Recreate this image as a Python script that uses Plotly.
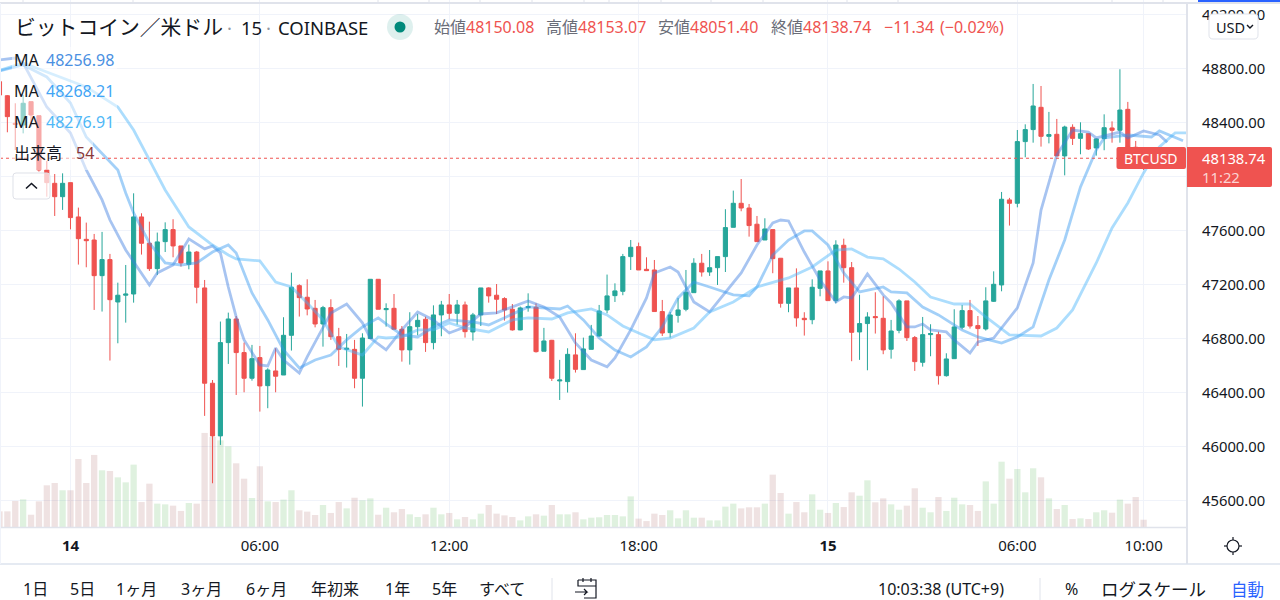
import pandas as pd
import plotly.graph_objects as go

FONT = "Noto Sans, Noto Sans CJK JP, sans-serif"
UP = "#26a69a"
DOWN = "#ef5350"
TEXT = "#131722"
LABEL = "#6a6d78"
DOT = "#9598a1"
BORDER = "#e0e3eb"
GRID = "#f0f3fa"

# 15 minute bars, first one is 2021-08-13 21:45
FIRST_BAR = "2021-08-13 21:45"
DAY_START = pd.Timestamp("2021-08-14 00:00")

opens = [
    48706, 48602, 48398, 48385, 48558, 48454, 48052, 47953, 47854, 47958,
    47704, 47538, 47533, 47269, 47388, 47074, 47124, 47133, 47704, 47509,
    47321, 47521, 47610, 47489, 47353, 47444, 47178, 46472, 46082, 46773,
    46948, 46699, 46509, 46662, 46454, 46563, 46533, 46827, 47195, 47109,
    47027, 46911, 47032, 46817, 46723, 46723, 46509, 46803, 47242, 47017,
    47027, 46872, 46719, 46891, 46946, 46773, 46978, 47052, 46990, 47052,
    46852, 46978, 47178, 47124, 47099, 47020, 46867, 47032, 47035, 46709,
    46790, 46489, 46484, 46682, 46573, 46723, 46822, 47015, 47121, 47153,
    47410, 47484, 47316, 47311, 47003, 46847, 46975, 47020, 47143, 47361,
    47296, 47328, 47410, 47627, 47805, 47770, 47650, 47533, 47610, 47398,
    47064, 47178, 46953, 46943, 47175, 47304, 47084, 47494, 47328, 46852,
    46914, 46966, 46953, 46724, 46864, 47082, 46810, 46627, 46832, 46832,
    46528, 46654, 46887, 47010, 46899, 46874, 47079, 47200, 47830, 47805,
    48262, 48351, 48516, 48301, 48316, 48156, 48368, 48286, 48321, 48215,
    48284, 48363, 48346, 48501, 48220, 48150.08,
]
highs = [
    48756, 48607, 48546, 48607, 48558, 48454, 48119, 48022, 48027, 47958,
    47773, 47662, 47578, 47593, 47430, 47217, 47348, 47879, 47731, 47669,
    47588, 47664, 47687, 47489, 47499, 47452, 47237, 46496, 46929, 46995,
    46970, 46773, 46756, 46748, 46583, 46731, 46961, 47291, 47205, 47242,
    47089, 47045, 47094, 46882, 46837, 46793, 46842, 47242, 47242, 47064,
    47133, 46896, 46998, 46985, 46965, 47049, 47082, 47133, 47089, 47077,
    46993, 47178, 47183, 47207, 47109, 47059, 47040, 47138, 47064, 46882,
    46793, 46645, 46731, 46842, 46810, 46904, 47052, 47277, 47212, 47430,
    47533, 47514, 47405, 47385, 47089, 47000, 47104, 47311, 47398, 47430,
    47459, 47410, 47761, 47899, 47985, 47800, 47711, 47694, 47610, 47398,
    47178, 47323, 46998, 47242, 47304, 47375, 47531, 47543, 47370, 47128,
    46998, 47146, 47116, 46941, 47094, 47082, 46822, 46963, 46909, 46854,
    46694, 47020, 47052, 47089, 46970, 47183, 47301, 47889, 47845, 48348,
    48390, 48689, 48674, 48482, 48430, 48380, 48390, 48405, 48321, 48287,
    48464, 48412, 48798, 48556, 48267, 48153.07,
]
lows = [
    48546, 48331, 48200, 48323, 48373, 48040, 47854, 47711, 47756, 47612,
    47351, 47331, 47015, 47003, 46640, 46768, 46921, 47069, 47425, 47304,
    47274, 47444, 47405, 47336, 47316, 47064, 46230, 45731, 46015, 46615,
    46385, 46405, 46491, 46262, 46287, 46405, 46533, 46714, 46966, 46975,
    46886, 46743, 46793, 46600, 46588, 46435, 46299, 46803, 47020, 46891,
    46872, 46632, 46610, 46827, 46704, 46723, 46820, 46946, 46906, 46810,
    46788, 46896, 47069, 46985, 46936, 46862, 46864, 47002, 46699, 46709,
    46489, 46348, 46403, 46551, 46573, 46723, 46817, 46990, 47074, 47124,
    47311, 47311, 47306, 47003, 46822, 46810, 46921, 47005, 47143, 47262,
    47267, 47200, 47296, 47627, 47746, 47558, 47521, 47533, 47287, 47032,
    46998, 46891, 46825, 46909, 47116, 47084, 47064, 47217, 46635, 46645,
    46568, 46840, 46687, 46654, 46842, 46785, 46563, 46595, 46672, 46462,
    46521, 46654, 46872, 46877, 46748, 46862, 47074, 47153, 47640, 47775,
    48146, 48254, 48225, 48249, 48156, 48012, 48237, 48168, 48200, 48158,
    48198, 48254, 48254, 48150, 48080, 48051.40,
]
closes = [
    48607, 48447, 48390, 48546, 48459, 48052, 47958, 47854, 47953, 47699,
    47543, 47528, 47269, 47388, 47091, 47124, 47133, 47704, 47509, 47321,
    47519, 47610, 47489, 47363, 47444, 47183, 46472, 46082, 46773, 46948,
    46699, 46509, 46654, 46452, 46570, 46524, 46827, 47183, 47106, 47022,
    46911, 47032, 46817, 46723, 46731, 46509, 46807, 47242, 47020, 47025,
    46872, 46719, 46891, 46938, 46773, 46978, 47052, 46990, 47052, 46854,
    46978, 47178, 47119, 47094, 47015, 46867, 47030, 47040, 46706, 46785,
    46509, 46496, 46686, 46575, 46726, 46822, 47007, 47119, 47156, 47410,
    47479, 47311, 47306, 47003, 46844, 46978, 47015, 47146, 47361, 47296,
    47328, 47410, 47625, 47805, 47770, 47640, 47521, 47615, 47395, 47064,
    47178, 46956, 46943, 47183, 47304, 47084, 47496, 47328, 46849, 46914,
    46963, 46958, 46719, 46859, 47082, 46810, 46632, 46832, 46840, 46528,
    46652, 46889, 47010, 46896, 46877, 47082, 47205, 47835, 47805, 48262,
    48351, 48526, 48301, 48314, 48156, 48370, 48286, 48321, 48207, 48282,
    48365, 48346, 48496, 48220, 48150, 48138.74,
]
volumes = [
    116, 116, 193, 205, 91, 190, 309, 326, 272, 272,
    504, 326, 534, 420, 415, 368, 331, 462, 185, 321,
    173, 168, 158, 119, 178, 173, 697, 667, 642, 598,
    472, 358, 215, 450, 190, 185, 203, 272, 124, 114,
    89, 163, 104, 185, 138, 217, 198, 212, 91, 143,
    109, 133, 94, 74, 94, 143, 94, 104, 57, 74,
    57, 99, 163, 99, 86, 74, 49, 79, 94, 84,
    163, 94, 94, 109, 57, 69, 72, 89, 89, 79,
    227, 62, 44, 99, 89, 124, 64, 124, 69, 69,
    49, 49, 151, 173, 138, 146, 146, 173, 388, 252,
    99, 185, 109, 242, 128, 104, 178, 148, 257, 232,
    346, 183, 212, 168, 128, 158, 287, 143, 109, 222,
    119, 217, 168, 163, 119, 338, 173, 484, 358, 430,
    257, 435, 368, 212, 133, 163, 59, 64, 59, 109,
    124, 106, 203, 173, 222, 54,
]

# moving averages: bar number counted from the 14th 00:00, and value
ma_fast_bars = [
    -9, -7, -6, -3, 0, 2, 4, 5, 7, 10, 11, 13, 15, 17, 18, 19, 20, 21, 22, 24,
    25, 26, 27, 29, 30, 32, 33, 35, 37, 38, 40, 42, 44, 46, 48, 50, 52, 54, 56, 58,
    60, 62, 64, 66, 68, 69, 71, 73, 74, 76, 77, 79, 81, 83, 85, 87, 89, 90, 91, 93,
    95, 97, 98, 99, 101, 103, 104, 106, 107, 108, 109, 111, 112, 114, 115, 117, 120, 122, 123, 125,
    127, 129, 130, 133, 134, 136, 138, 139,
]
ma_fast = [
    48867, 48881, 48844, 48518, 48326, 48052, 47830, 47681, 47459, 47200, 47289, 47348, 47541, 47467, 47489, 47437, 47185, 46963, 46793, 46607,
    46600, 46733, 46644, 46548, 46667, 46889, 46993, 47059, 46919, 46807, 46719, 46867, 47000, 46941, 46844, 46889, 46985, 46993, 47037, 47082,
    47037, 46963, 46770, 46644, 46593, 46659, 46867, 47104, 47289, 47333, 47296, 47074, 47000, 47148, 47289, 47496, 47659, 47681, 47674, 47444,
    47237, 47074, 47111, 47104, 47281, 47126, 47067, 46889, 46889, 46911, 46867, 46852, 46793, 46696, 46778, 46807, 47030, 47363, 47755, 48163,
    48348, 48333, 48289, 48333, 48289, 48341, 48311, 48256.98,
]
ma_mid_bars = [
    -9, -6, -3, 0, 2, 6, 7, 8, 10, 12, 14, 16, 18, 20, 21, 23, 25, 27, 29, 31,
    33, 35, 37, 39, 40, 42, 44, 46, 48, 51, 53, 55, 58, 62, 63, 65, 67, 69, 71, 73,
    75, 77, 79, 81, 84, 86, 87, 89, 91, 93, 94, 96, 98, 100, 103, 104, 106, 108, 110, 113,
    115, 118, 120, 122, 124, 126, 128, 130, 131, 134, 137, 138, 141,
]
ma_mid = [
    48785, 48830, 48741, 48548, 48296, 48052, 47881, 47733, 47511, 47363, 47348, 47363, 47444, 47496, 47437, 47141, 46941, 46719, 46585, 46644,
    46681, 46793, 46889, 46956, 46911, 46830, 46815, 46889, 46941, 46926, 46904, 46956, 47037, 47022, 47044, 46941, 46807, 46718, 46667, 46741,
    46889, 47104, 47222, 47185, 47126, 47119, 47185, 47422, 47533, 47600, 47600, 47496, 47289, 47148, 47185, 47148, 47141, 47037, 46978, 46867,
    46815, 46770, 46815, 46889, 47237, 47533, 47926, 48200, 48289, 48311, 48296, 48341, 48268.21,
]
ma_slow_bars = [
    -9, -6, -3, 2, 6, 8, 10, 12, 15, 18, 20, 21, 24, 26, 28, 30, 32, 34, 37, 39,
    40, 42, 44, 46, 48, 50, 53, 56, 58, 61, 63, 66, 68, 70, 72, 74, 76, 79, 81, 84,
    87, 91, 94, 97, 99, 101, 103, 105, 107, 109, 112, 114, 116, 119, 123, 125, 127, 130, 132, 134,
    136, 138, 140, 142,
]
ma_slow = [
    48790, 48844, 48778, 48667, 48518, 48348, 48126, 47904, 47630, 47496, 47422, 47393, 47378, 47222, 47185, 47067, 46941, 46741, 46681, 46815,
    46807, 46815, 46867, 46867, 46919, 46882, 46852, 46941, 46956, 46948, 46993, 47022, 46978, 46896, 46844, 46793, 46807, 46881, 47000, 47074,
    47185, 47252, 47333, 47459, 47467, 47407, 47393, 47318, 47222, 47111, 47059, 47059, 46963, 46830, 46822, 46881, 47015, 47363, 47622, 47807,
    48030, 48222, 48326, 48326,
]

price_ticks = [45600, 46000, 46400, 46800, 47200, 47600, 48000, 48400, 48800, 49200]
# the 48000 label sits behind the last price tag
price_labels = ["45600.00", "46000.00", "46400.00", "46800.00", "47200.00", "47600.00", "", "48400.00", "48800.00", "49200.00"]
time_ticks = ["2021-08-14 00:00", "2021-08-14 06:00", "2021-08-14 12:00", "2021-08-14 18:00",
              "2021-08-15 00:00", "2021-08-15 06:00", "2021-08-15 10:00"]
time_labels = ["<b>14</b>", "06:00", "12:00", "18:00", "<b>15</b>", "06:00", "10:00"]

range_items = ["1日", "5日", "1ヶ月", "3ヶ月", "6ヶ月", "年初来", "1年", "5年", "すべて"]
range_item_x = [22, 69, 115, 180, 245, 310, 384, 431, 478]
toolbar_ticks = [23, 133, 378, 429, 480, 532, 584, 609, 661, 711, 763, 847, 898, 1112, 1163]
quote_names = ["始値", "高値", "安値", "終値"]
quote_values = ["48150.08", "48153.07", "48051.40", "48138.74"]
quote_x = [433, 545, 657, 770]
ma_values = ["48256.98", "48268.21", "48276.91"]
ma_value_colors = ["#4a90e2", "#42a5f5", "#4fb8f7"]
ma_row_y = [60, 91, 122]


# paper coordinates run over the plot area, 1187 x 527 px
def px(x):
    return x / 1187


def py(y):
    return (527 - y) / 527


def bar_times(bars):
    return [DAY_START + pd.Timedelta(minutes=15 * b) for b in bars]


def pt(x, y):
    return f"{px(x):.5f},{py(y):.5f}"


def round_box(x0, y0, x1, y1, r):
    return (f"M{pt(x0 + r, y0)} L{pt(x1 - r, y0)} Q{pt(x1, y0)} {pt(x1, y0 + r)} "
            f"L{pt(x1, y1 - r)} Q{pt(x1, y1)} {pt(x1 - r, y1)} L{pt(x0 + r, y1)} "
            f"Q{pt(x0, y1)} {pt(x0, y1 - r)} L{pt(x0, y0 + r)} Q{pt(x0, y0)} {pt(x0 + r, y0)} Z")


def add_path(fig, path, color="rgba(0,0,0,0)", line=None, width=1):
    fig.add_shape(type="path", path=path, xref="paper", yref="paper", fillcolor=color,
                  line=dict(color=line or "rgba(0,0,0,0)", width=width if line else 0))


def add_seg(fig, x0, y0, x1, y1, color=BORDER, width=1):
    fig.add_shape(type="line", xref="paper", yref="paper", x0=px(x0), x1=px(x1), y0=py(y0), y1=py(y1),
                  line=dict(color=color, width=width))


def add_text(fig, x, y, text, size=16, color=TEXT, anchor="left"):
    fig.add_annotation(xref="paper", yref="paper", x=px(x), y=py(y), text=text, showarrow=False,
                       xanchor=anchor, yanchor="middle", align=anchor, borderpad=0,
                       font=dict(family=FONT, size=size, color=color))


times = pd.date_range(start=FIRST_BAR, periods=len(closes), freq="15min")
volume_colors = ["rgba(76,175,80,0.18)" if c >= o else "rgba(150,60,60,0.15)" for o, c in zip(opens, closes)]

fig = go.Figure()
fig.add_trace(go.Bar(x=times, y=volumes, marker=dict(color=volume_colors, line_width=0), yaxis="y"))
fig.add_trace(go.Candlestick(x=times, open=opens, high=highs, low=lows, close=closes, yaxis="y2",
                             whiskerwidth=0,
                             increasing=dict(line=dict(color=UP, width=1), fillcolor=UP),
                             decreasing=dict(line=dict(color=DOWN, width=1), fillcolor=DOWN)))
fig.add_trace(go.Scatter(x=bar_times(ma_fast_bars), y=ma_fast, mode="lines", yaxis="y2",
                         line=dict(color="rgba(60,125,225,0.45)", width=2.8)))
fig.add_trace(go.Scatter(x=bar_times(ma_mid_bars), y=ma_mid, mode="lines", yaxis="y2",
                         line=dict(color="rgba(50,150,240,0.45)", width=2.8)))
fig.add_trace(go.Scatter(x=bar_times(ma_slow_bars), y=ma_slow, mode="lines", yaxis="y2",
                         line=dict(color="rgba(70,180,250,0.45)", width=2.8)))

fig.update_layout(
    width=1280, height=600, autosize=False,
    margin=dict(l=0, r=93, t=0, b=73),
    paper_bgcolor="white", plot_bgcolor="white",
    showlegend=False, bargap=0.2, boxgap=0.25,
    font=dict(family=FONT, color=TEXT),
    xaxis=dict(type="date", range=["2021-08-13 21:46", "2021-08-15 11:22:30"],
               rangeslider_visible=False, tickmode="array", tickvals=time_ticks, ticktext=time_labels,
               tickangle=0, showgrid=True, gridcolor=GRID, gridwidth=1, zeroline=False, ticks="",
               ticklabelstandoff=8, tickfont=dict(size=15, color=TEXT, family=FONT)),
    yaxis=dict(range=[0, 3905], visible=False, fixedrange=True),
    yaxis2=dict(overlaying="y", side="right", range=[45407, 49311], tickmode="array", tickvals=price_ticks,
                ticktext=price_labels, showgrid=True, gridcolor=GRID, gridwidth=1, zeroline=False, ticks="",
                ticklabelstandoff=14, tickfont=dict(size=14.8, color=TEXT, family=FONT)),
)

# last price line
fig.add_shape(type="line", xref="paper", yref="y2", x0=0, x1=1, y0=closes[-1], y1=closes[-1],
              line=dict(color=DOWN, width=1, dash="dot"))

# pane borders
add_seg(fig, 0, 3, 1280, 3, width=2)
for x in toolbar_ticks:
    add_seg(fig, x, 0, x, 3, width=1)
add_seg(fig, 1198, 1, 1280, 1, color="#2962ff", width=2)
add_seg(fig, 1187, 3, 1187, 564, width=2)
add_seg(fig, 0, 527.5, 1187, 527.5, width=1.5)
add_seg(fig, 0, 564, 1280, 564, color="#dde3ee", width=1.5)
add_seg(fig, 0.5, 3, 0.5, 564, color=GRID, width=1)
add_seg(fig, 552, 578, 552, 600, width=1)
add_seg(fig, 1040, 578, 1040, 600, width=1)

# header
add_text(fig, 14, 27, "ビットコイン／米ドル", size=20.8, color=TEXT)
add_text(fig, 229, 27, "·", size=18.5, color=DOT, anchor="center")
add_text(fig, 240, 27, "15", size=18.5, color=TEXT)
add_text(fig, 268, 27, "·", size=18.5, color=DOT, anchor="center")
add_text(fig, 277, 27, "COINBASE", size=18.5, color=TEXT)
fig.add_shape(type="circle", xref="paper", yref="paper", x0=px(387), x1=px(413), y0=py(40), y1=py(14),
              fillcolor="rgba(0,137,123,0.13)", line_width=0)
fig.add_shape(type="circle", xref="paper", yref="paper", x0=px(394.5), x1=px(405.5), y0=py(32.5), y1=py(21.5),
              fillcolor="#00897b", line_width=0)

for x, name, value in zip(quote_x, quote_names, quote_values):
    add_text(fig, x, 27, f'{name}<span style="color:{DOWN}">{value}</span>', size=16, color=LABEL)
add_text(fig, 883, 27, "−11.34", size=16, color=DOWN)
add_text(fig, 939, 27, "(−0.02%)", size=16, color=DOWN)

# legend rows fade what is behind them
add_path(fig, round_box(12, 47, 117, 137, 1), color="rgba(255,255,255,0.5)")
add_path(fig, round_box(12, 137, 93, 170, 1), color="rgba(255,255,255,0.5)")
for y, value, color in zip(ma_row_y, ma_values, ma_value_colors):
    add_text(fig, 13, y, "MA")
    add_text(fig, 45, y, value, color=color)
add_text(fig, 13, 153, "出来高")
add_text(fig, 75, 153, "54", color="#8a3a3a")

# collapse button
add_path(fig, round_box(13, 173, 50, 199, 3), color="rgba(255,255,255,0.7)", line="#dfe1e8", width=1)
add_path(fig, f"M{pt(26, 188.5)} L{pt(31.5, 183.5)} L{pt(37, 188.5)}", line=TEXT, width=1.6)

# currency button
add_path(fig, round_box(1209, 14, 1258, 39, 4), color="white", line=BORDER, width=1)
add_text(fig, 1215, 26.5, "USD", size=14.5, color=TEXT)
add_path(fig, f"M{pt(1247, 25)} L{pt(1250, 28)} L{pt(1253, 25)}", line=TEXT, width=1.4)

# last price tags
add_path(fig, round_box(1116.5, 147, 1186, 169, 2), color=DOWN)
add_text(fig, 1151, 158, "BTCUSD", size=14, color="white", anchor="center")
add_path(fig, f"M{pt(1187, 147)} L{pt(1270, 147)} Q{pt(1272, 147)} {pt(1272, 149)} L{pt(1272, 185)} "
              f"Q{pt(1272, 187)} {pt(1270, 187)} L{pt(1187, 187)} Z", color=DOWN)
add_text(fig, 1201, 158, "48138.74", size=14.8, color="white")
add_text(fig, 1201, 177, "11:22", size=14.8, color="rgba(255,255,255,0.75)")

# sun icon
fig.add_shape(type="circle", xref="paper", yref="paper", x0=px(1227), x1=px(1239), y0=py(552), y1=py(540),
              line=dict(color=TEXT, width=1.2), fillcolor="rgba(0,0,0,0)")
for x0, y0, x1, y1 in [(1233, 537, 1233, 540), (1233, 552, 1233, 555), (1224, 546, 1227, 546), (1239, 546, 1242, 546)]:
    add_seg(fig, x0, y0, x1, y1, color=TEXT, width=1.2)

# bottom bar
for x, label in zip(range_item_x, range_items):
    add_text(fig, x, 589, label, size=16, color=TEXT)
add_path(fig, f"M{pt(578, 580)} L{pt(596, 580)} L{pt(596, 598)} L{pt(584, 598)} "
              f"M{pt(578, 580)} L{pt(578, 586)} L{pt(596, 586)} M{pt(583, 578)} L{pt(583, 582)} "
              f"M{pt(591, 578)} L{pt(591, 582)} M{pt(575, 592)} L{pt(587, 592)} L{pt(584, 589)} "
              f"M{pt(587, 592)} L{pt(584, 595)}", line=TEXT, width=1.2)
add_text(fig, 877, 589, "10:03:38 (UTC+9)", size=16, color=TEXT)
add_text(fig, 1064, 589, "%", size=16, color=TEXT)
add_text(fig, 1100, 589, "ログスケール", size=17.5, color=TEXT)
add_text(fig, 1230, 589, "自動", size=16.5, color="#2962ff")

fig.write_html("out.html", config={"displayModeBar": False}, post_script="document.body.style.margin='0';")
